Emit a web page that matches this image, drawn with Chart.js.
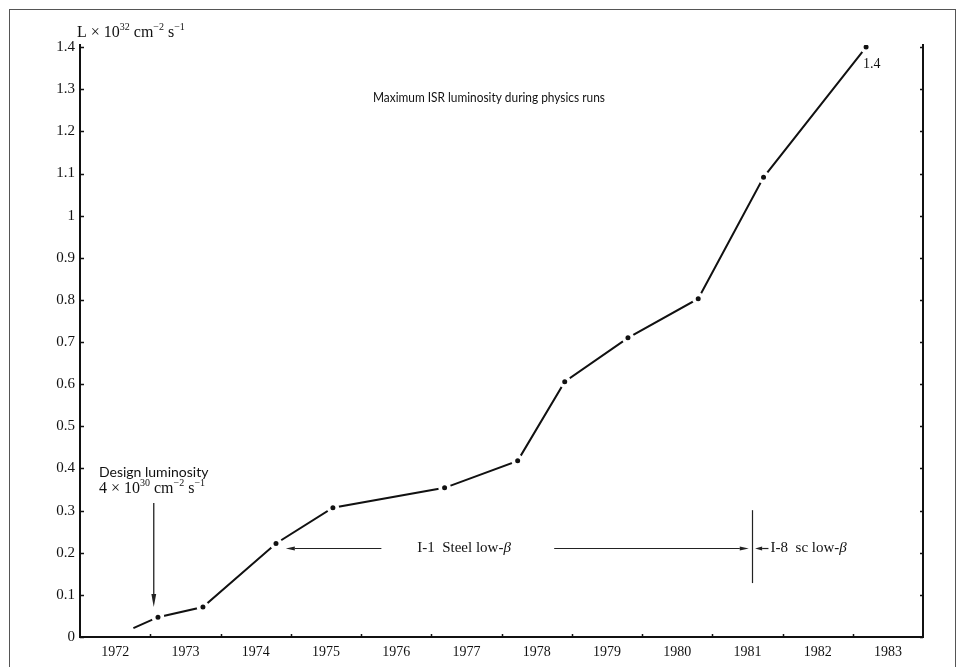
<!DOCTYPE html>
<html>
<head>
<meta charset="utf-8">
<script src="https://cdn.jsdelivr.net/npm/chart.js@4.4.0/dist/chart.umd.min.js"></script>
<style>
  html, body { margin: 0; padding: 0; background: #fff; }
  #wrap { position: relative; width: 961px; height: 667px; overflow: hidden; }
  #frame { position: absolute; left: 9px; top: 9px; width: 945px; height: 700px;
           border: 1px solid #555; border-bottom: none; pointer-events: none; }
</style>
</head>
<body>
<div id="wrap">
  <canvas id="c" width="961" height="667"></canvas>
  <div id="frame"></div>
</div>
<script>
// Years shown on the time axis (label sits in the middle of each year)
const years = [1972, 1973, 1974, 1975, 1976, 1977, 1978, 1979, 1980, 1981, 1982, 1983];
const yearLabels = ['1972', '1973', '1974', '1975', '1976', '1977', '1978', '1979', '1980', '1981', '1982', '1983'];
// Year boundaries carry the small tick marks
const yearBoundaries = [1972.5, 1973.5, 1974.5, 1975.5, 1976.5, 1977.5, 1978.5, 1979.5, 1980.5, 1981.5, 1982.5];

// Maximum luminosity reached in physics runs (units of 1e32 cm^-2 s^-1)
const runTimes   = [1972.26, 1972.61, 1973.25, 1974.29, 1975.10, 1976.69, 1977.73, 1978.40, 1979.30, 1980.30, 1981.23, 1982.69];
const luminosity = [0.021,   0.047,   0.071,   0.222,   0.307,   0.354,   0.418,   0.606,   0.710,   0.803,   1.091,   1.4];

const yTicks      = [0, 0.1, 0.2, 0.3, 0.4, 0.5, 0.6, 0.7, 0.8, 0.9, 1, 1.1, 1.2, 1.3, 1.4];
const yTickLabels = ['0', '0.1', '0.2', '0.3', '0.4', '0.5', '0.6', '0.7', '0.8', '0.9', '1', '1.1', '1.2', '1.3', '1.4'];

const SERIF = '"Liberation Serif", "DejaVu Serif", serif';
const SANS  = 'Lato, "Open Sans", sans-serif';
const INK   = '#111';

// Draw a run of text pieces; pieces marked sup are smaller and raised
function richText(ctx, x, y, pieces, size, family) {
  ctx.save();
  ctx.textBaseline = 'alphabetic';
  ctx.textAlign = 'left';
  ctx.fillStyle = INK;
  let cx = x;
  for (const [txt, sup] of pieces) {
    const fs = sup ? Math.round(size * 0.64) : size;
    ctx.font = fs + 'px ' + family;
    ctx.fillText(txt, cx, sup ? y - size * 0.42 : y);
    cx += ctx.measureText(txt).width;
  }
  ctx.restore();
}

function arrow(ctx, x1, y1, x2, y2, headLen, headHalf, width) {
  const ang = Math.atan2(y2 - y1, x2 - x1);
  const bx = x2 - Math.cos(ang) * headLen, by = y2 - Math.sin(ang) * headLen;
  ctx.save();
  ctx.strokeStyle = '#222';
  ctx.fillStyle = '#222';
  ctx.lineWidth = width;
  ctx.beginPath();
  ctx.moveTo(x1, y1);
  ctx.lineTo(bx, by);
  ctx.stroke();
  ctx.beginPath();
  ctx.moveTo(x2, y2);
  ctx.lineTo(bx - Math.sin(ang) * headHalf, by + Math.cos(ang) * headHalf);
  ctx.lineTo(bx + Math.sin(ang) * headHalf, by - Math.cos(ang) * headHalf);
  ctx.closePath();
  ctx.fill();
  ctx.restore();
}

// Inward tick marks on the axes plus the figure's notes
const figureMarks = {
  id: 'figureMarks',
  afterDraw(chart) {
    const ctx = chart.ctx;
    const xs = chart.scales.x, ys = chart.scales.y;
    const area = chart.chartArea;
    const X = v => xs.getPixelForValue(v);
    const Y = v => ys.getPixelForValue(v);

    ctx.save();
    ctx.strokeStyle = INK;
    ctx.lineWidth = 1.5;
    ctx.beginPath();
    for (const v of yTicks) {
      const py = Math.round(Y(v)) + 0.5;
      ctx.moveTo(area.left, py); ctx.lineTo(area.left + 4, py);
      ctx.moveTo(area.right, py); ctx.lineTo(area.right - 3, py);
    }
    for (const v of yearBoundaries) {
      const px = Math.round(X(v)) + 0.5;
      ctx.moveTo(px, area.bottom); ctx.lineTo(px, area.bottom - 3);
    }
    ctx.stroke();
    ctx.restore();

    // unit of the vertical axis
    richText(ctx, area.left - 3, area.top - 8,
      [['L × 10', false], ['32', true], [' cm', false], ['−2', true], [' s', false], ['−1', true]], 16, SERIF);

    // heading, set slightly condensed
    ctx.save();
    ctx.fillStyle = INK;
    ctx.font = '14px ' + SANS;
    ctx.textBaseline = 'middle';
    ctx.fillText('Maximum ISR luminosity during physics runs', X(1975.67), Y(1.281), 232);

    // design luminosity note
    ctx.font = '14px ' + SANS;
    ctx.fillText('Design luminosity', X(1971.77), Y(0.39));
    ctx.restore();
    richText(ctx, X(1971.77), Y(0.342), [['4 × 10', false], ['30', true], [' cm', false], ['−2', true], [' s', false], ['−1', true]], 16, SERIF);
    arrow(ctx, X(1972.55), Y(0.318), X(1972.55), Y(0.071), 13, 2.4, 1.3);

    // lattice periods
    const rowY = Y(0.21);
    arrow(ctx, X(1975.79), rowY, X(1974.43), rowY, 9, 2, 1.2);
    arrow(ctx, X(1978.25), rowY, X(1981.02), rowY, 9, 2, 1.2);
    arrow(ctx, X(1981.30), rowY, X(1981.11), rowY, 7, 2, 1.2);
    ctx.save();
    ctx.strokeStyle = '#222';
    ctx.lineWidth = 1.2;
    ctx.beginPath();
    const vx = Math.round(X(1981.07)) + 0.5;
    ctx.moveTo(vx, Y(0.301)); ctx.lineTo(vx, Y(0.128));
    ctx.stroke();
    ctx.fillStyle = INK;
    ctx.textBaseline = 'middle';
    ctx.font = '15px ' + SERIF;
    ctx.fillText('I-1  Steel low-', X(1976.30), rowY);
    let w = ctx.measureText('I-1  Steel low-').width;
    ctx.font = 'italic 15px ' + SERIF;
    ctx.fillText('β', X(1976.30) + w, rowY);
    ctx.font = '15px ' + SERIF;
    ctx.fillText('I-8  sc low-', X(1981.33), rowY);
    w = ctx.measureText('I-8  sc low-').width;
    ctx.font = 'italic 15px ' + SERIF;
    ctx.fillText('β', X(1981.33) + w, rowY);

    // value of the last point
    const li = luminosity.length - 1;
    ctx.font = '14px ' + SERIF;
    ctx.textBaseline = 'top';
    ctx.fillText(String(luminosity[li]), X(runTimes[li]) - 3, Y(luminosity[li]) + 10);
    ctx.restore();
  }
};

new Chart(document.getElementById('c'), {
  type: 'line',
  data: {
    datasets: [{
      data: runTimes.map((t, i) => ({ x: t, y: luminosity[i] })),
      borderColor: INK,
      borderWidth: 2,
      tension: 0,
      // a white ring around each dot leaves the small gap where the line meets it
      pointRadius: ctx => ctx.dataIndex === 0 ? 0 : 4.4,
      pointBorderWidth: 3.8,
      pointBackgroundColor: INK,
      pointBorderColor: '#fff',
      pointHoverRadius: 4.4
    }]
  },
  options: {
    responsive: false,
    devicePixelRatio: 1,
    animation: false,
    events: [],
    layout: { padding: { top: 45, right: 38, left: 0, bottom: 0 } },
    plugins: { legend: { display: false }, tooltip: { enabled: false }, title: { display: false } },
    scales: {
      x: {
        type: 'linear',
        min: 1971.5,
        max: 1983.5,
        afterBuildTicks: axis => { axis.ticks = years.map(v => ({ value: v })); },
        afterFit: axis => { axis.height = 30; },
        grid: { display: false, drawTicks: false },
        border: { display: true, color: INK, width: 2 },
        ticks: {
          autoSkip: false,
          maxRotation: 0,
          padding: 7,
          color: INK,
          font: { family: SERIF, size: 14 },
          callback: (v, i) => yearLabels[i]
        }
      },
      y: {
        type: 'linear',
        min: 0,
        max: 1.405,
        afterBuildTicks: axis => { axis.ticks = yTicks.map(v => ({ value: v })); },
        afterFit: axis => { axis.width = 80; },
        grid: { display: false, drawTicks: false },
        border: { display: true, color: INK, width: 2 },
        ticks: {
          autoSkip: false,
          padding: 5,
          color: INK,
          font: { family: SERIF, size: 15 },
          callback: (v, i) => yTickLabels[i]
        }
      },
      y2: {
        type: 'linear',
        position: 'right',
        min: 0,
        max: 1.405,
        afterFit: axis => { axis.width = 0; },
        grid: { display: false, drawTicks: false },
        border: { display: true, color: INK, width: 2 },
        ticks: { display: false }
      }
    }
  },
  plugins: [figureMarks]
});
</script>
</body>
</html>
